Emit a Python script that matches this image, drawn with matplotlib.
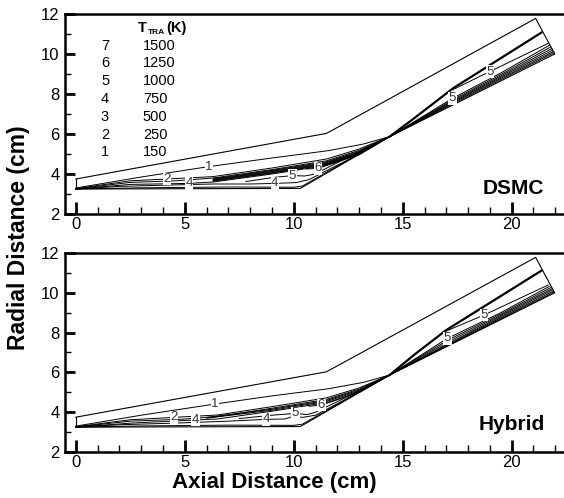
import matplotlib
matplotlib.use("Agg")
import matplotlib.pyplot as plt
from matplotlib.ticker import MultipleLocator

plt.rcParams['font.family'] = ['Liberation Sans', 'DejaVu Sans']

# legend table
levels = ["7", "6", "5", "4", "3", "2", "1"]
temps = ["1500", "1250", "1000", "750", "500", "250", "150"]

# domain outline (same for both panels)
outer_x = [0, 11.5, 21.1, 21.97]
outer_y = [3.75, 6.03, 11.78, 10.0]
inlet_x = [0, 0]
inlet_y = [3.75, 3.25]
wall_x = [0, 10.3, 14.4, 21.97]
wall_y = [3.25, 3.28, 5.87, 10.0]

# ---- DSMC contour lines (x list, y list) ----
dsmc_lines = [
    ([0, 3, 6.1, 9, 11.6, 13.2, 14.4], [3.3, 3.85, 4.37, 4.8, 5.17, 5.5, 5.87]),
    ([0, 2.5, 4.19, 6.3, 9, 11.5, 13, 14.4], [3.27, 3.66, 3.75, 3.87, 4.3, 4.75, 5.25, 5.87]),
    ([0, 2.5, 4.6, 6.3, 9, 11.5, 13, 14.4], [3.26, 3.58, 3.66, 3.8, 4.22, 4.66, 5.18, 5.87]),
    ([6.3, 9, 11.5, 13, 14.4], [3.76, 4.18, 4.61, 5.13, 5.87]),
    ([6.3, 9, 11.5, 13, 14.4], [3.73, 4.14, 4.57, 5.09, 5.87]),
    ([6.3, 9, 11.5, 13, 14.4], [3.7, 4.11, 4.53, 5.06, 5.87]),
    ([6.3, 9, 11.5, 13, 14.4], [3.67, 4.07, 4.5, 5.03, 5.87]),
    ([6.3, 9, 11.5, 13, 14.4], [3.64, 4.04, 4.47, 5.0, 5.87]),
    ([0, 2.5, 5.2, 6.3, 9, 11.5, 13, 14.4], [3.25, 3.48, 3.53, 3.6, 4.0, 4.43, 4.96, 5.87]),
    ([0, 2, 4, 6.3, 8, 9.13, 10.1, 10.7, 12.5, 14.4], [3.25, 3.38, 3.44, 3.5, 3.5, 3.53, 3.57, 3.72, 4.72, 5.87]),
    ([7.8, 9.0, 9.94, 10.5, 10.9, 11.3, 12.5, 14.4], [3.62, 3.82, 3.92, 3.9, 3.98, 4.18, 4.84, 5.87]),
    ([10.6, 11.12, 12, 13, 14.4], [4.25, 4.28, 4.62, 5.06, 5.87]),
    ([0, 3, 7, 10.0, 10.4, 11.2, 12.5, 14.4], [3.25, 3.31, 3.35, 3.34, 3.4, 3.9, 4.7, 5.87]),
    ([17.3, 18.99, 21.67], [8.22, 9.12, 10.53]),
    ([14.4, 17.28, 19.5, 21.75], [5.87, 7.78, 9.05, 10.45]),
    ([14.4, 17.3, 19.5, 21.8], [5.87, 7.72, 8.97, 10.36]),
    ([14.4, 17.3, 19.5, 21.85], [5.87, 7.66, 8.9, 10.28]),
    ([14.4, 17.3, 19.5, 21.89], [5.87, 7.61, 8.84, 10.2]),
    ([14.4, 17.3, 19.5, 21.93], [5.87, 7.56, 8.78, 10.13]),
    ([14.4, 17.3, 19.5, 21.95], [5.87, 7.51, 8.72, 10.07]),
]
dsmc_bold = ([14.4, 15.6, 17.3, 21.36], [5.87, 6.85, 8.28, 11.07])
dsmc_labels = [("1", 6.1, 4.37), ("2", 4.19, 3.75), ("4", 5.2, 3.53), ("4", 9.13, 3.53),
               ("5", 9.94, 3.92), ("6", 11.12, 4.28), ("5", 18.99, 9.12), ("5", 17.28, 7.78)]

# ---- Hybrid contour lines ----
hybrid_lines = [
    ([0, 3, 6.38, 9, 11.6, 13.2, 14.4], [3.3, 3.85, 4.41, 4.82, 5.18, 5.5, 5.87]),
    ([0, 2.5, 4.5, 6.5, 9, 11.5, 13, 14.4], [3.27, 3.62, 3.74, 3.86, 4.28, 4.72, 5.22, 5.87]),
    ([0, 2.5, 4.9, 6.5, 9, 11.5, 13, 14.4], [3.26, 3.55, 3.65, 3.78, 4.2, 4.64, 5.16, 5.87]),
    ([6.0, 9, 11.5, 13, 14.4], [3.74, 4.15, 4.59, 5.11, 5.87]),
    ([6.0, 9, 11.5, 13, 14.4], [3.7, 4.1, 4.54, 5.06, 5.87]),
    ([0, 2.5, 5.49, 6.5, 9, 11.5, 13, 14.4], [3.25, 3.45, 3.61, 3.66, 4.05, 4.48, 4.99, 5.87]),
    ([0, 2, 4.5, 7, 8.72, 9.6, 10.0, 10.4, 11, 12.5, 14.4], [3.25, 3.37, 3.45, 3.55, 3.64, 3.66, 3.8, 3.74, 3.85, 4.72, 5.87]),
    ([7.5, 9, 10.08, 10.6, 11.0, 12.5, 14.4], [3.68, 3.85, 3.94, 3.88, 4.0, 4.8, 5.87]),
    ([10.7, 11.27, 12.2, 13.2, 14.4], [4.3, 4.36, 4.7, 5.15, 5.87]),
    ([0, 3, 7, 10.0, 10.4, 11.2, 12.5, 14.4], [3.25, 3.31, 3.35, 3.34, 3.4, 3.9, 4.7, 5.87]),
    ([17.0, 18.72, 21.67], [8.08, 8.88, 10.39]),
    ([14.4, 17.05, 19.5, 21.72], [5.87, 7.71, 9.0, 10.32]),
    ([14.4, 17.1, 19.5, 21.79], [5.87, 7.64, 8.93, 10.26]),
    ([14.4, 17.2, 19.5, 21.84], [5.87, 7.6, 8.87, 10.2]),
    ([14.4, 17.3, 19.5, 21.88], [5.87, 7.57, 8.81, 10.15]),
    ([14.4, 17.3, 19.5, 21.92], [5.87, 7.52, 8.75, 10.09]),
    ([14.4, 17.3, 19.5, 21.95], [5.87, 7.48, 8.7, 10.04]),
]
hybrid_bold = ([14.4, 15.6, 17.0, 21.36], [5.87, 6.95, 8.13, 11.11])
hybrid_labels = [("1", 6.38, 4.41), ("2", 4.5, 3.74), ("4", 5.49, 3.61), ("4", 8.72, 3.64),
                 ("5", 10.08, 3.94), ("6", 11.27, 4.36), ("5", 18.72, 8.88), ("5", 17.05, 7.71)]

W, H = 564, 498
fig = plt.figure(figsize=(W / 100, H / 100), dpi=100)
ax_top = fig.add_axes([65 / W, 1 - 214 / H, 499 / W, 200 / H])
ax_bot = fig.add_axes([65 / W, 1 - 452 / H, 499 / W, 199 / H])


def draw_panel(ax, lines, bold, labels, name):
    ax.plot(outer_x, outer_y, color="black", lw=0.8)
    ax.plot(inlet_x, inlet_y, color="black", lw=0.8)
    ax.plot(wall_x, wall_y, color="black", lw=0.8)
    for xs, ys in lines:
        ax.plot(xs, ys, color="black", lw=0.7)
    ax.plot(bold[0], bold[1], color="black", lw=1.6)
    for txt, x, y in labels:
        ax.text(x, y, txt, fontsize=9.5, color="#333333", ha="center", va="center",
                bbox=dict(facecolor="white", edgecolor="none", pad=0.3))
    ax.text(21.5, 3.3 if name == "DSMC" else 3.4, name, fontsize=15, fontweight="bold",
            ha="right", va="center")

    ax.set_xlim(-0.5, 22.4)
    ax.set_ylim(2, 12)
    ax.set_xticks([0, 5, 10, 15, 20])
    ax.set_yticks([2, 4, 6, 8, 10, 12])
    ax.xaxis.set_minor_locator(MultipleLocator(1))
    ax.yaxis.set_minor_locator(MultipleLocator(1))
    ax.tick_params(which="major", direction="in", length=9, width=2.0, labelsize=12)
    ax.tick_params(which="minor", direction="in", length=5, width=1.0)
    ax.tick_params(axis="y", which="major", length=7, pad=4)
    ax.tick_params(axis="y", which="minor", length=4)
    ax.tick_params(axis="x", pad=2)
    ax.spines["right"].set_visible(False)
    for s in ["left", "bottom", "top"]:
        ax.spines[s].set_linewidth(1.8)


draw_panel(ax_top, dsmc_lines, dsmc_bold, dsmc_labels, "DSMC")
draw_panel(ax_bot, hybrid_lines, hybrid_bold, hybrid_labels, "Hybrid")

# legend table in top panel
row_y = [10.4, 9.55, 8.65, 7.75, 6.85, 5.95, 5.1]
for lev, t, y in zip(levels, temps, row_y):
    ax_top.text(1.15, y, lev, fontsize=10.5, ha="left", va="center")
    ax_top.text(3.07, y, t, fontsize=10.5, ha="left", va="center")
ax_top.text(2.84, 11.3, "T", fontsize=10.5, fontweight="bold", ha="left", va="center")
ax_top.text(3.3, 11.05, "TRA", fontsize=6, fontweight="bold", ha="left", va="center")
ax_top.text(4.15, 11.3, "(K)", fontsize=10.5, fontweight="bold", ha="left", va="center")

fig.text(274 / W, 1 - 482 / H, "Axial Distance (cm)", fontsize=16, fontweight="bold",
         ha="center", va="center")
fig.text(19 / W, 1 - 238 / H, "Radial Distance (cm)", fontsize=16.5, fontweight="bold",
         ha="center", va="center", rotation=90)

fig.savefig("out.png", dpi=100)
